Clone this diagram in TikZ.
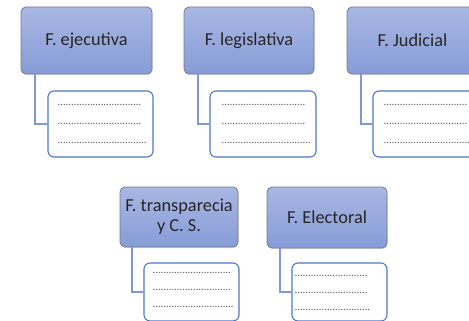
\documentclass[tikz,border=0pt]{standalone}
\usepackage{fontspec}
\setmainfont{Carlito}
\usetikzlibrary{shadows}
\definecolor{boxtop}{HTML}{A8B7E2}
\definecolor{boxbot}{HTML}{879CD7}
\definecolor{boxedge}{HTML}{727A8C}
\definecolor{subedge}{HTML}{4A78CC}
\definecolor{connc}{HTML}{7F97D6}
\definecolor{dotc}{HTML}{5A5A5A}
\newcommand{\dotsA}{...............................}
\newcommand{\dotsB}{.................................}
\newcommand{\dotsC}{.............................}
\newcommand{\dotsD}{..............................}
\newcommand{\dotsE}{...........................}
\newcommand{\dotsF}{............................}
\tikzset{
  topbox/.style={draw=boxedge, line width=0.8pt, rounded corners=5pt,
    top color=boxtop, bottom color=boxbot, text=black!85,
    font=\fontsize{18.3}{20}\selectfont, align=center, inner sep=0pt,
    drop shadow={opacity=0.25, shadow xshift=0.6pt, shadow yshift=-1.2pt}},
  subbox/.style={draw=subedge, line width=1.1pt, rounded corners=6pt, fill=white, inner sep=0pt},
  dotline/.style={text=dotc, font=\fontsize{10.7}{19}\selectfont, align=left, inner sep=0pt, anchor=west},
  conn/.style={draw=connc, line width=2pt}
}
\begin{document}
\begin{tikzpicture}[x=1pt,y=-1pt]
\useasboundingbox (0,0) rectangle (469,321);
\clip (0,0) rectangle (469,321);
% top row
\node[topbox, minimum width=131pt, minimum height=67pt] (ejec) at (86.5,40.5) {F. ejecutiva};
\node[topbox, minimum width=130pt, minimum height=67pt] (legis) at (249,40.5) {F. legislativa};
\node[topbox, minimum width=131pt, minimum height=67pt] (judi) at (412.5,40.5) {F. Judicial};
\node[subbox, minimum width=105pt, minimum height=66pt] (ejecS) at (100.5,124) {};
\node[subbox, minimum width=106pt, minimum height=66pt] (legisS) at (263,124) {};
\node[subbox, minimum width=106pt, minimum height=66pt] (judiS) at (426,124) {};
\draw[conn] ([xshift=14pt]ejec.south west) |- (ejecS.west);
\draw[conn] ([xshift=14pt]legis.south west) |- (legisS.west);
\draw[conn] ([xshift=14pt]judi.south west) |- (judiS.west);
\node[dotline] (ejecD) at ([xshift=10pt]ejecS.west) {\dotsA\\\dotsA\\\dotsB};
\node[dotline] (legisD) at ([xshift=12pt]legisS.west) {\dotsA\\\dotsA\\\dotsB};
\node[dotline] (judiD) at ([xshift=11pt]judiS.west) {\dotsA\\\dotsA\\\dotsB};
% bottom row
\node[topbox, minimum width=118pt, minimum height=60pt] (trans) at (179,217) {F. transparecia\\y C. S.};
\node[topbox, minimum width=120pt, minimum height=61pt] (elec) at (327,217.5) {F. Electoral};
\node[subbox, minimum width=95pt, minimum height=58pt] (transS) at (191.5,292) {};
\node[subbox, minimum width=95pt, minimum height=58pt] (elecS) at (339.5,292) {};
\draw[conn] ([xshift=12pt]trans.south west) |- (transS.west);
\draw[conn] ([xshift=13pt]elec.south west) |- (elecS.west);
\node[dotline, font=\fontsize{10.7}{17}\selectfont] (transD) at ([xshift=9pt,yshift=2pt]transS.west) {\dotsC\\\dotsC\\\dotsD};
\node[dotline, font=\fontsize{10.7}{17}\selectfont] (elecD) at ([xshift=3pt,yshift=-1pt]elecS.west) {\dotsE\\\dotsE\\\dotsF};
\end{tikzpicture}
\end{document}
